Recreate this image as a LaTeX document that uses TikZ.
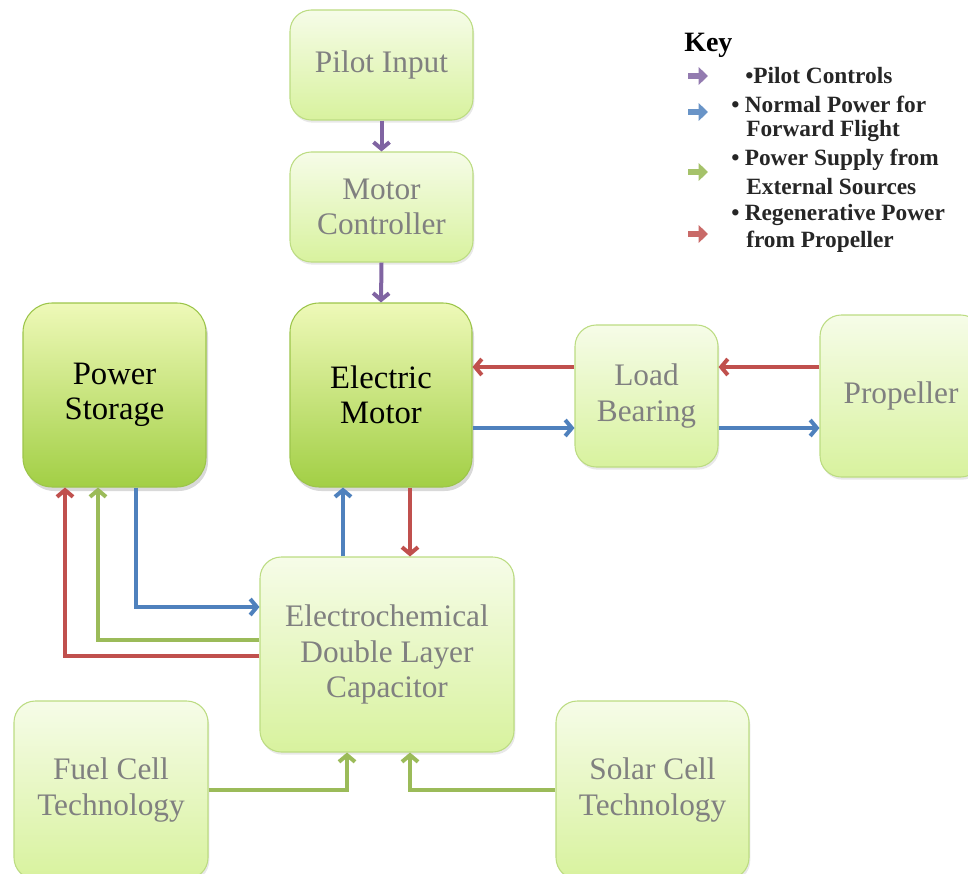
\documentclass[tikz,border=0pt]{standalone}
\usepackage{fontspec}
\setmainfont{Liberation Serif}
\usetikzlibrary{arrows.meta,shadows,calc}
\definecolor{cpur}{HTML}{8064A2}
\definecolor{cblue}{HTML}{4F81BD}
\definecolor{cgreen}{HTML}{9BBB59}
\definecolor{cred}{HTML}{C0504D}
\definecolor{ltop}{HTML}{F6FCE8}
\definecolor{lbot}{HTML}{D8F29E}
\definecolor{ledge}{HTML}{BCDC82}
\definecolor{dtop}{HTML}{EEF9B8}
\definecolor{dbot}{HTML}{A2CF45}
\definecolor{dedge}{HTML}{9CC54A}
\definecolor{txtgrey}{HTML}{808080}
\begin{document}
\begin{tikzpicture}[x=0.75pt,y=-0.75pt,
  lbox/.style={draw=ledge, line width=0.8pt, rounded corners=16pt,
    top color=ltop, bottom color=lbot, text=txtgrey,
    font=\fontsize{23.5}{26.5}\selectfont, align=center, inner sep=0pt,
    drop shadow={opacity=0.18,shadow xshift=1pt,shadow yshift=-2pt}},
  dbox/.style={draw=dedge, line width=0.8pt, rounded corners=22pt,
    top color=dtop, bottom color=dbot, text=black,
    font=\fontsize{24.5}{26.5}\selectfont, align=center, inner sep=0pt,
    drop shadow={opacity=0.3,shadow xshift=1.5pt,shadow yshift=-3pt}},
  arr/.style={line width=3pt, -{Straight Barb[length=5pt,width=12pt]}},
  keyarr/.style={line width=5pt, -{Triangle[length=7pt,width=13pt]}},
  keytxt/.style={anchor=west, font=\fontsize{17.5}{20}\selectfont\bfseries, text=black!85, inner sep=0pt}
]
\useasboundingbox (0,0) rectangle (968,874);
\begin{scope}
\clip (0,0) rectangle (968,874);
% nodes
\node[lbox, minimum width=137.25pt, minimum height=82.5pt] (pi) at (381.5,65) {Pilot Input};
\node[lbox, minimum width=137.25pt, minimum height=82.5pt] (mc) at (381.5,207) {Motor\\Controller};
\node[dbox, minimum width=137.25pt, minimum height=138pt] (ps) at (114.5,395) {Power\\Storage};
\node[dbox, minimum width=136.5pt, minimum height=138pt] (em) at (381,395) {Electric\\Motor};
\node[lbox, minimum width=107.25pt, minimum height=106.5pt] (lb) at (646.5,396) {Load\\Bearing};
\node[lbox, minimum width=121.5pt, minimum height=121.5pt] (pr) at (901,396) {Propeller};
\node[lbox, minimum width=190.5pt, minimum height=146.25pt] (cap) at (387,654.5) {Electrochemical\\Double Layer\\Capacitor};
\node[lbox, minimum width=145.5pt, minimum height=133.5pt] (fc) at (111,790) {Fuel Cell\\Technology};
\node[lbox, minimum width=144.75pt, minimum height=133.5pt] (sc) at (652.5,790) {Solar Cell\\Technology};
\end{scope}
% connectors
\draw[arr, cpur] (pi.south) -- (mc.north);
\draw[arr, cpur] (mc.south) -- (em.north);
\draw[arr, cred] (lb.west |- 0,367) -- (em.east |- 0,367);
\draw[arr, cred] (pr.west |- 0,367) -- (lb.east |- 0,367);
\draw[arr, cblue] (em.east |- 0,428) -- (lb.west |- 0,428);
\draw[arr, cblue] (lb.east |- 0,428) -- (pr.west |- 0,428);
\draw[arr, cblue] (cap.north -| 343,0) -- (em.south -| 343,0);
\draw[arr, cred] (em.south -| 410,0) -- (cap.north -| 410,0);
\draw[arr, cblue] (ps.south -| 136,0) |- (cap.west |- 0,607);
\draw[arr, cgreen] (cap.west |- 0,640) -| (ps.south -| 98,0);
\draw[arr, cred] (cap.west |- 0,656) -| (ps.south -| 65,0);
\draw[arr, cgreen] (fc.east |- 0,790) -| (cap.south -| 347,0);
\draw[arr, cgreen] (sc.west |- 0,790) -| (cap.south -| 410,0);
% key
\node[anchor=west, inner sep=0pt, font=\fontsize{21}{24}\selectfont\bfseries] (keyt) at (684,45) {Key};
\coordinate (k1a) at (688,76);  \coordinate (k1b) at (708,76);
\coordinate (k2a) at (688,112); \coordinate (k2b) at (708,112);
\coordinate (k3a) at (688,172); \coordinate (k3b) at (708,172);
\coordinate (k4a) at (688,234); \coordinate (k4b) at (708,234);
\draw[keyarr, cpur!85] (k1a) -- (k1b);
\draw[keyarr, cblue!85] (k2a) -- (k2b);
\draw[keyarr, cgreen!90] (k3a) -- (k3b);
\draw[keyarr, cred!85] (k4a) -- (k4b);
\node[keytxt] (l1) at (745,76) {•Pilot Controls};
\node[keytxt] (l2) at (731,104) {•\hspace{4pt}Normal Power for};
\node[keytxt] (l2b) at (746,131) {Forward Flight};
\node[keytxt] (l3) at (731,160) {•\hspace{4pt}Power Supply from};
\node[keytxt] (l3b) at (746,187) {External Sources};
\node[keytxt] (l4) at (731,215) {•\hspace{4pt}Regenerative Power};
\node[keytxt] (l4b) at (746,242) {from Propeller};
\end{tikzpicture}
\end{document}
